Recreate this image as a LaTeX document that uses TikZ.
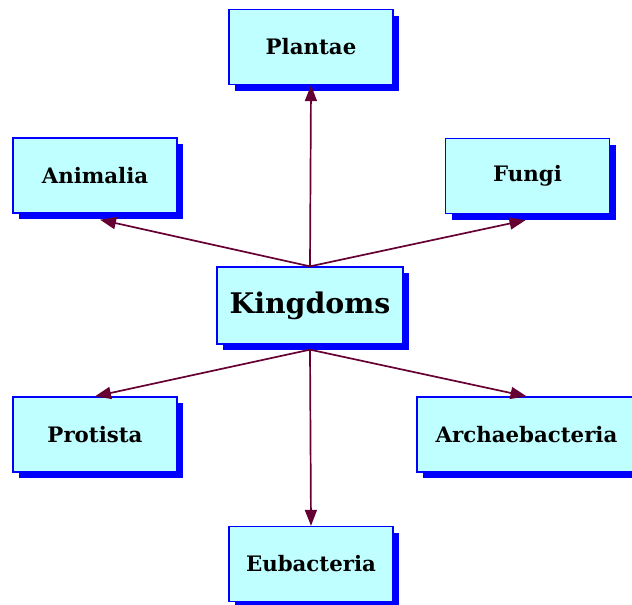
\documentclass[tikz,border=0pt]{standalone}
\usepackage{fontspec}
\setmainfont{DejaVu Serif}
\usetikzlibrary{arrows.meta,shadows}
\definecolor{boxfill}{HTML}{C0FFFF}
\definecolor{arrowcol}{HTML}{660033}
\tikzset{
  kbox/.style={rectangle, draw=blue, line width=1.3pt, fill=boxfill,
    minimum width=164pt, minimum height=75pt, inner sep=0pt,
    font=\bfseries\fontsize{21.3}{24}\selectfont,
    drop shadow={shadow xshift=6pt, shadow yshift=-6pt, fill=blue, opacity=1}},
  kmain/.style={kbox, minimum width=186pt, minimum height=77pt,
    font=\bfseries\fontsize{28.4}{31}\selectfont},
  karrow/.style={draw=arrowcol, line width=1.7pt, -{Triangle[length=16pt,width=12pt]}}
}
\begin{document}
\begin{tikzpicture}[x=1pt,y=-1pt]
\useasboundingbox (0,0) rectangle (632,605);
\begin{scope}
\clip (0,0) rectangle (632,605);
\node[kbox] (plantae) at (311,47) {Plantae};
\node[kbox] (animalia) at (95,175.5) {Animalia};
\node[kbox] (fungi) at (527.5,176) {Fungi};
\node[kmain] (kingdoms) at (310,305.5) {Kingdoms};
\node[kbox] (protista) at (95,434.5) {Protista};
\node[kbox, minimum width=219pt] (archae) at (526.5,434.5) {Archaebacteria};
\node[kbox] (eubacteria) at (311,564) {Eubacteria};
\draw[karrow] (kingdoms.north) -- (plantae.south);
\draw[karrow] (kingdoms.north) -- ([shift={(5,6)}]animalia.south);
\draw[karrow] (kingdoms.north) -- ([shift={(-2,6)}]fungi.south);
\draw[karrow] ([yshift=-5pt]kingdoms.south) -- (protista.north);
\draw[karrow] ([yshift=-5pt]kingdoms.south) -- (archae.north);
\draw[karrow] ([yshift=-5pt]kingdoms.south) -- (eubacteria.north);
\end{scope}
\end{tikzpicture}
\end{document}
